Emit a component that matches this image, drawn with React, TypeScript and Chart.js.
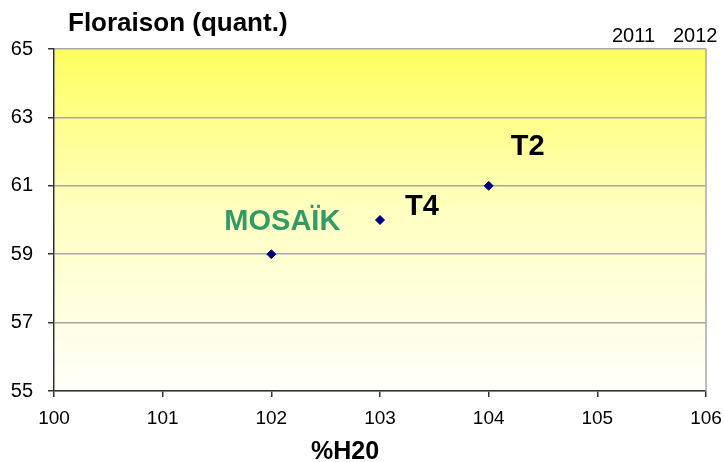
import { useEffect, useRef } from "react";
import { Chart, registerables } from "chart.js";

Chart.register(...registerables);

const varieties = ["MOSAÏK", "T4", "T2"];
const h2o = [102, 103, 104];
const floraison = [59, 60, 61];
const labelColors = ["#339966", "#000000", "#000000"];
const yTicks = [55, 57, 59, 61, 63, 65];
const xTicks = [100, 101, 102, 103, 104, 105, 106];
const years = ["2011", "2012"];
const chartTitle = "Floraison (quant.)";
const xTitle = "%H20";

// label offsets in px from their point
const labelOffsets = [
  [11, -32],
  [42, -13],
  [39, -39],
];

const FONT = "'Liberation Sans', Arial, Helvetica, sans-serif";

export default function App() {
  const ref = useRef<HTMLCanvasElement | null>(null);

  useEffect(() => {
    if (!ref.current) return;
    const decor = {
      id: "decor",
      beforeDraw(chart: any) {
        const { ctx, chartArea: a } = chart;
        const g = ctx.createLinearGradient(0, a.top, 0, a.bottom);
        g.addColorStop(0, "#ffff5e");
        g.addColorStop(0.45, "#ffffbe");
        g.addColorStop(1, "#fffffa");
        ctx.save();
        ctx.fillStyle = g;
        ctx.fillRect(a.left, a.top, a.right - a.left, a.bottom - a.top);
        ctx.restore();
      },
      afterDraw(chart: any) {
        const { ctx, chartArea: a } = chart;
        ctx.save();
        ctx.strokeStyle = "#a8a8a8";
        ctx.lineWidth = 1.5;
        ctx.beginPath();
        ctx.moveTo(a.right, a.top);
        ctx.lineTo(a.right, a.bottom);
        ctx.stroke();

        ctx.fillStyle = "#000";
        ctx.textBaseline = "middle";
        ctx.textAlign = "left";
        ctx.font = `bold 26px ${FONT}`;
        ctx.fillText(chartTitle, 68, 24);

        ctx.font = `20px ${FONT}`;
        ctx.fillText(years[0], 612, 36);
        ctx.fillText(years[1], 673, 36);

        ctx.textAlign = "center";
        ctx.font = `bold 25px ${FONT}`;
        ctx.fillText(xTitle, 345, 452);

        const xs = chart.scales.x;
        const ys = chart.scales.y;
        ctx.font = `bold 29px ${FONT}`;
        varieties.forEach((v, i) => {
          const px = xs.getPixelForValue(h2o[i]);
          const py = ys.getPixelForValue(floraison[i]);
          ctx.fillStyle = labelColors[i];
          ctx.fillText(v, px + labelOffsets[i][0], py + labelOffsets[i][1]);
        });
        ctx.restore();
      },
    };

    const chart = new Chart(ref.current, {
      type: "scatter",
      data: {
        datasets: [
          {
            data: h2o.map((x, i) => ({ x, y: floraison[i] })),
            pointStyle: "rectRot",
            pointRadius: 4.5,
            backgroundColor: "#000080",
            borderColor: "#000080",
            borderWidth: 1,
          },
        ],
      },
      options: {
        animation: false,
        responsive: false,
        layout: { padding: { top: 49, right: 18, left: 0, bottom: 0 } },
        plugins: { legend: { display: false }, tooltip: { enabled: false } },
        scales: {
          x: {
            type: "linear",
            min: xTicks[0],
            max: xTicks[xTicks.length - 1],
            afterBuildTicks: (s: any) => {
              s.ticks = xTicks.map((v) => ({ value: v }));
            },
            afterFit: (s: any) => {
              s.height = 71;
              s.paddingLeft = 0;
              s.paddingRight = 0;
            },
            ticks: {
              color: "#000",
              font: { family: FONT, size: 19 },
              padding: 10,
              maxRotation: 0,
            },
            grid: {
              drawOnChartArea: false,
              drawTicks: true,
              tickLength: 6,
              color: "#333",
              lineWidth: 1.5,
            },
            border: { color: "#333", width: 1.5 },
          },
          y: {
            min: yTicks[0],
            max: yTicks[yTicks.length - 1],
            afterBuildTicks: (s: any) => {
              s.ticks = yTicks.map((v) => ({ value: v }));
            },
            afterFit: (s: any) => {
              s.width = 54;
              s.paddingTop = 0;
              s.paddingBottom = 0;
            },
            ticks: {
              color: "#000",
              font: { family: FONT, size: 20 },
              padding: 15,
            },
            grid: {
              color: "#a8a8a8",
              lineWidth: 1.5,
              tickColor: "#333",
              tickLength: 6,
            },
            border: { color: "#333", width: 1.5 },
          },
        },
      },
      plugins: [decor],
    } as any);
    return () => chart.destroy();
  }, []);

  return (
    <div style={{ position: "fixed", left: 0, top: 0, width: 724, height: 462, background: "#fff" }}>
      <canvas ref={ref} width={724} height={462} style={{ width: 724, height: 462 }} />
    </div>
  );
}
